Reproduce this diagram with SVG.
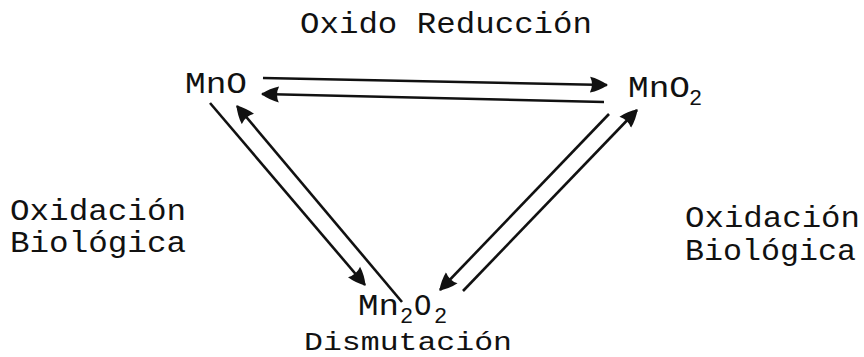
<svg xmlns="http://www.w3.org/2000/svg" width="864" height="357" viewBox="0 0 864 357">
<style>
  .t { font-family: "Liberation Mono", "DejaVu Sans Mono", monospace; font-size: 29px; fill: #111; }
  .d { font-family: "Liberation Mono", "DejaVu Sans Mono", monospace; font-size: 26px; fill: #111; }
  .s { font-family: "Liberation Mono", "DejaVu Sans Mono", monospace; font-size: 22px; fill: #111; }
  .c { stroke: #111; stroke-width: 2.6; fill: none; marker-end: url(#ah); }
</style>
<defs>
  <marker id="ah" markerUnits="userSpaceOnUse" markerWidth="20" markerHeight="18" viewBox="0 0 20 18" refX="17" refY="9" orient="auto">
    <path d="M0,1 Q9,3 18,9 Q9,15 0,17 Q4,9 0,1 Z" fill="#111"/>
  </marker>
</defs>
<rect width="864" height="357" fill="#fff"/>
<g id="title"><text class="t" x="300" y="33" textLength="292" lengthAdjust="spacingAndGlyphs">Oxido Reducción</text></g>
<g id="MnO"><text class="t" x="185" y="93" textLength="62" lengthAdjust="spacingAndGlyphs">MnO</text></g>
<g id="MnO2"><text class="t" x="628" y="97" textLength="62" lengthAdjust="spacingAndGlyphs">MnO</text><text class="s" x="689" y="105">2</text></g>
<g id="Mn2O2">
  <text class="t" x="358" y="315" textLength="41" lengthAdjust="spacingAndGlyphs">Mn</text>
  <text class="s" x="400" y="323">2</text>
  <text class="t" x="414" y="315">O</text>
  <text class="s" x="434" y="323">2</text>
</g>
<g id="dismutacion"><text class="d" x="304" y="350" textLength="208" lengthAdjust="spacingAndGlyphs">Dismutación</text></g>
<g id="left-label">
  <text class="t" x="10" y="220" textLength="176" lengthAdjust="spacingAndGlyphs">Oxidación</text>
  <text class="t" x="10" y="252" textLength="176" lengthAdjust="spacingAndGlyphs">Biológica</text>
</g>
<g id="right-label">
  <text class="t" x="685" y="227" textLength="175" lengthAdjust="spacingAndGlyphs">Oxidación</text>
  <text class="t" x="685" y="260" textLength="171" lengthAdjust="spacingAndGlyphs">Biológica</text>
</g>
<g id="connectors">
  <path class="c" d="M263,78 L607,85"/>
  <path class="c" d="M604,102 L262,94"/>
  <path class="c" d="M210,103 L365,285"/>
  <path class="c" d="M402,302 L237,106"/>
  <path class="c" d="M463,291 L637,110"/>
  <path class="c" d="M609,114 L440,290"/>
</g>
</svg>
